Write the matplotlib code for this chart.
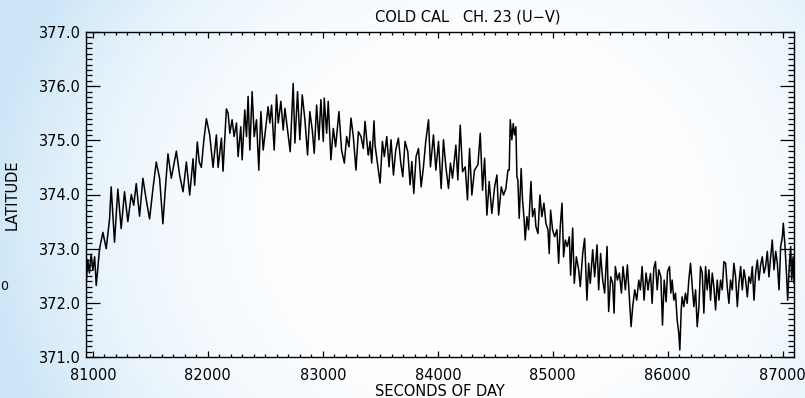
import numpy as np
import matplotlib
matplotlib.use('Agg')
import matplotlib.pyplot as plt
from matplotlib.ticker import MultipleLocator, FormatStrFormatter

# seconds of day / latitude
seconds = [80940, 80955, 80970, 80985, 81000, 81015, 81029, 81058, 81087, 81116,
           81145, 81159, 81188, 81217, 81246, 81275, 81304, 81334, 81355, 81377,
           81406, 81435, 81464, 81493, 81522, 81551, 81580, 81609, 81630, 81653,
           81682, 81726, 81755, 81784, 81813, 81842, 81871, 81885, 81908, 81925,
           81943, 81965, 81987, 82016, 82045, 82074, 82089, 82118, 82132, 82161,
           82176, 82191, 82211, 82228, 82249, 82263, 82286, 82298, 82321, 82336,
           82350, 82365, 82385, 82403, 82423, 82443, 82461, 82481, 82501, 82524,
           82539, 82554, 82577, 82597, 82612, 82635, 82655, 82670, 82693, 82716,
           82742, 82757, 82780, 82800, 82821, 82844, 82867, 82887, 82908, 82925,
           82946, 82966, 82983, 83004, 83012, 83033, 83047, 83070, 83091, 83111,
           83140, 83163, 83187, 83207, 83227, 83245, 83265, 83288, 83309, 83332,
           83352, 83367, 83390, 83396, 83411, 83425, 83445, 83454, 83477, 83498,
           83518, 83535, 83556, 83576, 83593, 83614, 83634, 83657, 83678, 83695,
           83715, 83739, 83759, 83774, 83791, 83811, 83832, 83855, 83875, 83895,
           83919, 83936, 83962, 83983, 84006, 84029, 84049, 84070, 84093, 84110,
           84128, 84157, 84174, 84195, 84215, 84238, 84258, 84276, 84296, 84319,
           84349, 84369, 84389, 84407, 84427, 84447, 84470, 84494, 84514, 84529,
           84552, 84572, 84592, 84610, 84621, 84630, 84644, 84656, 84667, 84679,
           84688, 84696, 84708, 84725, 84737, 84751, 84760, 84775, 84789, 84810,
           84824, 84842, 84853, 84871, 84888, 84905, 84923, 84940, 84958, 84969,
           84981, 84998, 85016, 85036, 85051, 85065, 85080, 85094, 85109, 85126,
           85144, 85155, 85173, 85187, 85205, 85225, 85239, 85260, 85277, 85297,
           85312, 85326, 85347, 85364, 85385, 85399, 85416, 85434, 85451, 85472,
           85486, 85504, 85521, 85533, 85544, 85562, 85579, 85597, 85611, 85631,
           85649, 85666, 85681, 85695, 85713, 85730, 85748, 85762, 85777, 85794,
           85811, 85829, 85835, 85850, 85864, 85879, 85893, 85908, 85922, 85940,
           85954, 85969, 85986, 85998, 86015, 86027, 86038, 86053, 86067, 86082,
           86096, 86105, 86117, 86125, 86140, 86154, 86169, 86183, 86198, 86213,
           86227, 86242, 86256, 86271, 86285, 86300, 86314, 86329, 86343, 86358,
           86372, 86387, 86401, 86416, 86430, 86445, 86459, 86474, 86488, 86503,
           86517, 86532, 86546, 86561, 86575, 86590, 86605, 86619, 86634, 86648,
           86663, 86677, 86692, 86706, 86721, 86735, 86750, 86764, 86779, 86793,
           86808, 86822, 86837, 86851, 86866, 86880, 86895, 86909, 86924, 86939,
           86953, 86968, 86982, 86997, 87005, 87020, 87034, 87043, 87055, 87069,
           87078, 87090, 87098]
latitude = [372.30, 372.80, 372.55, 372.90, 372.60, 372.85, 372.32, 373.00, 373.30, 373.00,
            373.55, 374.14, 373.12, 374.10, 373.37, 374.05, 373.50, 374.00, 373.80, 374.20,
            373.60, 374.30, 373.90, 373.55, 374.10, 374.60, 374.30, 373.46, 374.10, 374.75,
            374.30, 374.80, 374.35, 374.05, 374.60, 373.99, 374.66, 374.17, 374.97, 374.60,
            374.50, 375.00, 375.40, 375.10, 374.50, 375.10, 374.50, 375.04, 374.43, 375.58,
            375.50, 375.13, 375.38, 375.07, 375.32, 374.70, 375.25, 374.64, 375.56, 375.07,
            375.81, 374.82, 375.90, 375.07, 375.38, 374.45, 375.53, 374.82, 375.19, 375.62,
            375.32, 375.65, 374.82, 375.84, 375.32, 375.72, 375.19, 375.59, 375.19, 374.79,
            376.05, 374.95, 375.90, 375.01, 375.84, 375.38, 374.73, 375.53, 375.19, 374.76,
            375.65, 375.01, 375.75, 374.98, 375.78, 375.13, 375.72, 374.64, 375.22, 374.88,
            375.53, 374.82, 374.58, 375.07, 374.88, 375.41, 375.07, 374.45, 375.16, 375.07,
            374.85, 375.35, 374.82, 374.73, 374.98, 374.58, 375.36, 374.91, 374.55, 374.21,
            374.98, 374.70, 375.07, 374.51, 375.01, 374.36, 374.82, 375.04, 374.58, 374.33,
            374.98, 374.79, 374.18, 374.61, 374.02, 374.70, 374.85, 374.14, 374.51, 374.98,
            375.38, 374.51, 375.10, 374.45, 374.98, 374.11, 375.01, 374.51, 374.11, 374.58,
            374.30, 374.91, 374.27, 375.28, 374.42, 374.51, 373.90, 374.85, 373.99, 374.45,
            374.55, 375.13, 374.08, 374.67, 373.62, 374.24, 373.65, 374.14, 374.36, 373.62,
            374.14, 373.99, 374.11, 374.45, 374.45, 375.38, 375.01, 375.31, 375.10, 375.25,
            374.33, 374.27, 373.56, 374.48, 373.90, 373.53, 373.16, 373.59, 373.35, 374.24,
            373.59, 373.74, 373.41, 373.28, 373.99, 373.59, 373.84, 373.47, 373.35, 372.91,
            373.71, 373.35, 373.22, 373.35, 372.73, 373.41, 373.84, 372.85, 373.16, 373.04,
            373.22, 372.51, 373.38, 372.36, 372.85, 372.61, 372.30, 372.91, 373.19, 372.05,
            372.73, 372.36, 372.98, 372.48, 373.07, 372.24, 372.91, 372.42, 372.18, 373.04,
            371.84, 372.48, 372.36, 371.81, 372.67, 372.42, 372.55, 372.18, 372.67, 372.24,
            372.70, 372.11, 371.56, 371.93, 372.24, 372.05, 372.42, 372.24, 372.67, 372.05,
            372.55, 372.24, 372.36, 372.54, 371.99, 372.64, 372.76, 372.24, 372.61, 372.48,
            371.59, 372.42, 372.02, 372.58, 372.67, 372.18, 372.42, 372.05, 372.18, 371.68,
            371.44, 371.13, 371.87, 372.11, 371.93, 372.18, 371.99, 372.42, 372.73, 372.30,
            371.93, 372.24, 371.56, 371.93, 372.67, 372.55, 371.81, 372.67, 372.24, 372.61,
            372.05, 372.55, 372.30, 371.87, 372.42, 372.05, 372.42, 372.24, 372.76, 372.73,
            372.30, 371.99, 372.42, 372.24, 372.73, 372.48, 371.93, 372.36, 372.67, 372.24,
            372.61, 372.42, 372.11, 372.48, 372.36, 372.67, 372.05, 372.55, 372.79, 372.42,
            372.70, 372.85, 372.55, 372.67, 372.95, 372.48, 372.85, 373.16, 372.61, 372.95,
            372.73, 372.24, 373.04, 373.22, 373.47, 373.04, 372.48, 372.05, 372.61, 373.04,
            372.42, 372.85, 372.36]

W, H = 805, 398
fig = plt.figure(figsize=(W / 100, H / 100), dpi=100)

# light blue backdrop, fading to white toward the middle
bg = fig.add_axes([0, 0, 1, 1], zorder=-10)
gx, gy = np.meshgrid(np.linspace(0, 1, 400), np.linspace(0, 1, 200))
w = np.clip(((gx - 0.6) / 0.62) ** 2 + ((gy - 0.55) / 1.1) ** 2, 0, 1) ** 1.6
edge = np.array([0.80, 0.90, 0.97])
img = 1 - w[..., None] * (1 - edge)
bg.imshow(img, extent=[0, 1, 0, 1], aspect='auto', origin='upper')
bg.axis('off')

ax = fig.add_axes([86 / W, 1 - 357 / H, (794 - 86) / W, (357 - 32) / H])
ax.patch.set_alpha(0)
ax.plot(seconds, latitude, color='black', lw=1.1)

ax.set_xlim(80940, 87098)
ax.set_ylim(371, 377)
ax.xaxis.set_major_locator(MultipleLocator(1000))
ax.xaxis.set_minor_locator(MultipleLocator(100))
ax.yaxis.set_major_locator(MultipleLocator(1))
ax.yaxis.set_minor_locator(MultipleLocator(0.1))
ax.yaxis.set_major_formatter(FormatStrFormatter('%.1f'))
ax.tick_params(axis='both', which='both', direction='in', top=True, right=True,
               color='black', labelsize=10.5)
ax.tick_params(axis='y', which='major', length=10, width=0.9, pad=4)
ax.tick_params(axis='y', which='minor', length=4.3, width=0.9)
ax.tick_params(axis='x', which='major', length=4.5, width=0.9, pad=8)
ax.tick_params(axis='x', which='minor', length=2.5, width=0.9)
for s in ax.spines.values():
    s.set_linewidth(1.0)

ax.set_xlabel('SECONDS OF DAY', fontsize=10.5, labelpad=1)
ax.set_ylabel('LATITUDE', fontsize=10.5)
ax.yaxis.set_label_coords(-66 / 708, 0.5)
fig.text(468 / W, 1 - 17 / H, 'COLD CAL   CH. 23 (U\u2212V)', ha='center', va='center',
         fontsize=10.5)
fig.text(0, 1 - 286 / H, '0', ha='left', va='center', fontsize=9)

fig.savefig('out.png', dpi=100)
